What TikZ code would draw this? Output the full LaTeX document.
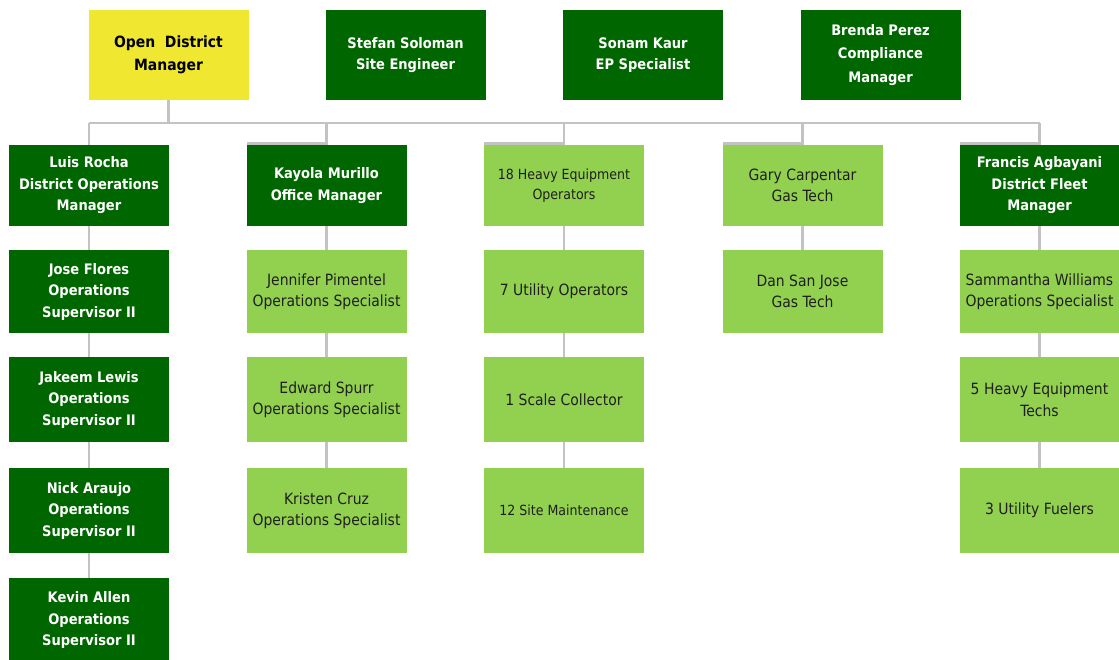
\documentclass[tikz,border=0pt]{standalone}
\usepackage{fontspec}
\setmainfont{DejaVu Sans Condensed}
\begin{document}
\definecolor{darkgrn}{RGB}{0,102,0}
\definecolor{litegrn}{RGB}{146,208,80}
\definecolor{openyel}{RGB}{240,232,48}
\definecolor{linkgry}{RGB}{195,195,195}
\begin{tikzpicture}[x=1pt,y=-1pt,
  box/.style={inner sep=0pt,outer sep=0pt,align=center,minimum width=160pt,
    font=\fontsize{15.5}{21.5}\selectfont},
  dkbox/.style={box,fill=darkgrn,text=white,font=\fontsize{14.5}{21.5}\selectfont\bfseries},
  ltbox/.style={box,fill=litegrn,text=black!88},
  ylbox/.style={box,fill=openyel,text=black,font=\fontsize{15.5}{23.5}\selectfont\bfseries},
  small/.style={font=\fontsize{14}{19.5}\selectfont},
  top/.style={minimum height=90pt},
  r1/.style={minimum height=81pt},
  r2/.style={minimum height=83pt},
  r3/.style={minimum height=85pt},
  conn/.style={draw=linkgry,line width=2.5pt}]
\useasboundingbox (0,0) rectangle (1119,660);

% top row
\node[ylbox,top] (odm) at (168.5,55) {Open\ \ District\\Manager};
\node[dkbox,top] (stefan) at (405.5,55) {Stefan Soloman\\Site Engineer};
\node[dkbox,top] (sonam) at (643,55) {Sonam Kaur\\EP Specialist};
\node[dkbox,top,font=\fontsize{14.5}{23.5}\selectfont\bfseries] (brenda) at (880.5,55) {Brenda Perez\\Compliance\\Manager};

% second row
\node[dkbox,r1] (luis) at (89,185.5) {Luis Rocha\\District Operations\\Manager};
\node[dkbox,r1] (kayola) at (326.5,185.5) {Kayola Murillo\\Office Manager};
\node[ltbox,r1,small] (heavy) at (564,185.5) {18 Heavy Equipment\\Operators};
\node[ltbox,r1] (gary) at (802.5,185.5) {Gary Carpentar\\Gas Tech};
\node[dkbox,r1] (francis) at (1039.5,185.5) {Francis Agbayani\\District Fleet\\Manager};

% column 1
\node[dkbox,r2] (jose) at (89,291.5) {Jose Flores\\Operations\\Supervisor II};
\node[dkbox,r3] (jakeem) at (89,399.5) {Jakeem Lewis\\Operations\\Supervisor II};
\node[dkbox,r3] (nick) at (89,510.5) {Nick Araujo\\Operations\\Supervisor II};
\node[dkbox,minimum height=84pt] (kevin) at (89,620) {Kevin Allen\\Operations\\Supervisor II};

% column 2
\node[ltbox,r2] (jennifer) at (326.5,291.5) {Jennifer Pimentel\\Operations Specialist};
\node[ltbox,r3] (edward) at (326.5,399.5) {Edward Spurr\\Operations Specialist};
\node[ltbox,r3] (kristen) at (326.5,510.5) {Kristen Cruz\\Operations Specialist};

% column 3
\node[ltbox,r2] (utilops) at (564,291.5) {7 Utility Operators};
\node[ltbox,r3] (scale) at (564,399.5) {1 Scale Collector};
\node[ltbox,r3,small] (sitemaint) at (564,510.5) {12 Site Maintenance};

% column 4
\node[ltbox,r2] (dan) at (802.5,291.5) {Dan San Jose\\Gas Tech};

% column 5
\node[ltbox,r2] (sammantha) at (1039.5,291.5) {Sammantha Williams\\Operations Specialist};
\node[ltbox,r3] (hetechs) at (1039.5,399.5) {5 Heavy Equipment\\Techs};
\node[ltbox,r3] (fuelers) at (1039.5,510.5) {3 Utility Fuelers};

% connectors from the district manager to the second row
\coordinate (busL) at (89,123);
\coordinate (busR) at (1040,123);
\draw[conn] (odm.south) -- (odm.south |- busL);
\draw[conn] (busL) -- (busR);
\draw[conn] (busL) -- (luis.north);
\foreach \n in {kayola,heavy,gary,francis}{
  \draw[conn,line join=miter] (\n.north |- busL) -- ([yshift=1.5pt]\n.north)
    -- ([yshift=1.5pt]\n.north west);
}

% connectors inside the columns
\foreach \a/\b in {luis/jose,jose/jakeem,jakeem/nick,nick/kevin,
  kayola/jennifer,jennifer/edward,edward/kristen,
  heavy/utilops,utilops/scale,scale/sitemaint,
  gary/dan,
  francis/sammantha,sammantha/hetechs,hetechs/fuelers}{
  \draw[conn] (\a.south) -- (\b.north);
}
\end{tikzpicture}
\end{document}
